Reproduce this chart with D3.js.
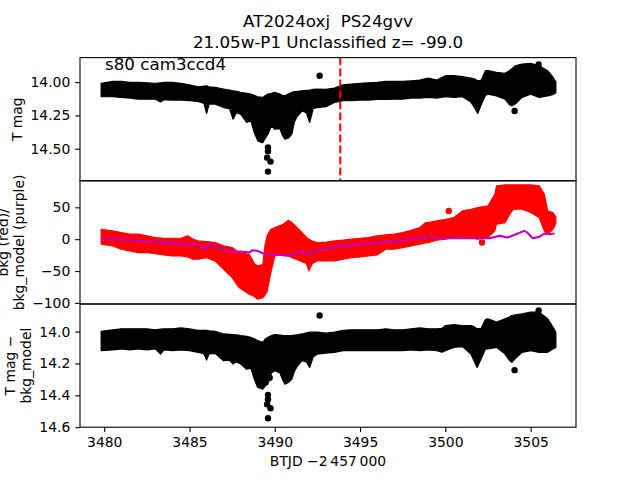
<!DOCTYPE html>
<html><head><meta charset="utf-8">
<script src="https://cdn.jsdelivr.net/npm/d3@7"></script>
<style>body{margin:0;background:#fff}svg{display:block;font-family:"DejaVu Sans",sans-serif}</style>
</head><body><svg id="c" width="640" height="480"></svg>
<script>
// ---- Panel 1: T mag light curve (envelope of the point cloud) ----
const lcT   = [3479.82,3480.5,3481,3481.5,3482,3482.5,3483,3483.3,3483.5,3484,3484.5,3485,3485.5,3485.85,3486,3486.15,3486.5,3487,3487.35,3487.55,3487.75,3488,3488.35,3488.6,3488.8,3489,3489.15,3489.3,3489.45,3489.6,3489.8,3490,3490.3,3490.45,3490.6,3490.8,3491,3491.15,3491.3,3491.6,3491.85,3492.05,3492.25,3492.5,3493,3493.5,3494,3494.5,3495,3495.5,3496,3496.5,3497,3497.5,3498,3498.5,3499,3499.5,3500,3500.5,3501,3501.5,3501.7,3501.9,3502.1,3502.35,3502.5,3503,3503.5,3503.75,3503.9,3504.1,3504.5,3505,3505.5,3506,3506.3,3506.48];
const lcTop = [14.010,13.995,13.995,14.002,14.002,14.005,14.010,14.005,14.002,14.002,14.010,14.020,14.035,14.030,14.028,14.035,14.040,14.052,14.060,14.065,14.070,14.077,14.085,14.090,14.100,14.110,14.112,14.115,14.100,14.090,14.085,14.077,14.090,14.100,14.103,14.090,14.077,14.072,14.070,14.065,14.062,14.060,14.055,14.052,14.055,14.045,14.020,14.015,14.010,14.005,14.002,13.995,13.995,13.995,13.990,13.985,13.970,13.985,13.952,13.952,13.959,13.970,13.975,13.990,13.985,13.914,13.914,13.927,13.934,13.914,13.900,13.877,13.864,13.859,13.877,13.914,13.960,14.000];
const lcBot = [14.110,14.110,14.115,14.120,14.128,14.128,14.128,14.150,14.133,14.135,14.135,14.140,14.145,14.160,14.236,14.165,14.165,14.191,14.200,14.278,14.230,14.241,14.303,14.290,14.380,14.441,14.450,14.454,14.420,14.391,14.330,14.354,14.350,14.400,14.429,14.420,14.391,14.300,14.260,14.216,14.230,14.303,14.200,14.191,14.185,14.153,14.140,14.140,14.135,14.135,14.130,14.130,14.128,14.128,14.120,14.120,14.115,14.120,14.110,14.115,14.110,14.150,14.191,14.236,14.170,14.100,14.090,14.103,14.128,14.170,14.178,14.165,14.115,14.090,14.115,14.103,14.095,14.080];
const lcDotT = [3489.6,3489.6,3489.55,3489.75,3489.6,3492.63,3504.06,3505.47];
const lcDotM = [14.49,14.52,14.567,14.597,14.672,13.952,14.216,13.868];
const markerT = 3493.84;

// ---- Panel 2: background (red envelope) and background model (purple) ----
const bkT   = [3479.82,3480.5,3481,3481.5,3482,3482.5,3483,3483.5,3484,3484.5,3484.9,3485.2,3485.5,3486,3486.5,3487,3487.5,3487.9,3488.5,3488.8,3489,3489.3,3489.42,3489.55,3489.75,3490,3490.5,3490.8,3491,3491.5,3491.85,3492,3492.2,3492.5,3493,3493.5,3494,3494.5,3495,3495.5,3496,3496.5,3497,3497.5,3498,3498.5,3498.85,3499,3499.5,3500,3500.5,3501,3501.5,3501.9,3502.5,3502.9,3503,3503.5,3503.8,3504,3504.5,3505,3505.5,3505.8,3506,3506.3,3506.48];
const bkTop = [15.6,13,10.4,7.8,7.8,5.2,2.5,1.5,1.5,1.5,5.2,0,-2.7,-3.7,-5.3,-10.5,-13.2,-21,-23.6,-38,-42,-40,-10,5,15,18.2,23.5,29.8,26.1,13,3,0,-3,-5.3,-4.5,-2.7,-1.6,0,1.5,2.5,5.2,6.7,7.8,10.4,14,18.2,26.1,26.1,28.7,31.3,33.9,44.4,47,49.6,52.3,70.6,83.7,85.2,85.2,85.2,85.2,85.2,83.7,70.6,44.4,41.8,35];
const bkBot = [-7.9,-10.5,-15.8,-18.4,-21,-21,-22.6,-24.7,-26.2,-26.2,-28,-31.5,-31.5,-28.9,-34.1,-47.2,-60.3,-76,-86.4,-90,-94.3,-91.7,-88,-82,-55,-26.2,-23.6,-26,-28.9,-34.1,-38,-49.8,-38,-34.1,-33.5,-34.1,-31.5,-28.9,-27.8,-26.2,-24.7,-15.8,-15.8,-13.2,-10.5,-7.9,-6,-5.3,-1.6,0,2.5,3.6,2.5,0,2.5,13,23.5,26,40,47,47,41.8,33.9,13,7.8,15,25];
const bkDotT = [3500.2,3502.15];
const bkDotV = [44.4,-5.3];
const modelT = [3479.85,3480,3481,3482,3483,3484,3485,3485.5,3485.75,3485.9,3486.1,3486.4,3487,3487.5,3488,3488.5,3488.7,3489,3489.5,3490.3,3490.85,3491.55,3492,3492.5,3493,3494,3495,3496,3497,3498,3498.83,3499.2,3499.6,3500.8,3501.8,3502.58,3503.17,3503.66,3504.14,3504.63,3504.8,3505.12,3505.5,3505.8,3506.1,3506.4];
const modelV = [0,0,-0.6,-2.7,-4.3,-5.8,-7.9,-9,-10,-15.8,-9.5,-10,-15.8,-19.4,-19.4,-21,-17.3,-18.5,-24.7,-24.7,-26.2,-19.4,-22.6,-17.3,-15.8,-10.5,-7.9,-5.3,-2.7,0,2.5,5.2,1.5,1.5,1.5,1.5,5.2,2.5,7.8,13,10.4,1.5,3.6,8.8,7.8,8.8];

// ---- Panel 3: T mag - bkg_model ----
const dfT   = [3479.82,3480.5,3481,3481.5,3482,3482.5,3483,3483.3,3483.5,3484,3484.5,3485,3485.5,3485.85,3486,3486.15,3486.5,3487,3487.35,3487.55,3487.75,3488,3488.35,3488.6,3488.8,3489,3489.15,3489.3,3489.45,3489.6,3489.8,3490,3490.3,3490.45,3490.6,3490.8,3491,3491.15,3491.3,3491.6,3491.85,3492.05,3492.25,3492.5,3493,3493.5,3494,3494.5,3495,3495.5,3496,3496.5,3497,3497.5,3498,3498.5,3499,3499.5,3499.8,3500,3500.5,3501,3501.5,3501.7,3501.86,3502.1,3502.35,3502.5,3503,3503.5,3503.75,3503.9,3504.1,3504.5,3505,3505.5,3506,3506.3,3506.48];
const dfTop = [13.998,13.989,13.983,13.983,13.983,13.983,13.989,13.985,13.983,13.983,13.977,13.983,13.993,13.993,13.993,13.995,13.998,14.015,14.017,14.019,14.020,14.025,14.030,14.036,14.045,14.057,14.062,14.067,14.045,14.036,14.025,14.019,14.022,14.024,14.025,14.025,14.025,14.022,14.020,14.015,14.008,14.004,14.004,14.004,14.010,14.004,13.993,13.989,13.989,13.989,13.989,13.983,13.989,13.989,13.983,13.977,13.983,13.983,13.980,13.962,13.956,13.962,13.962,13.970,13.983,13.980,13.925,13.920,13.941,13.920,13.909,13.899,13.895,13.888,13.878,13.878,13.920,13.970,14.004];
const dfBot = [14.120,14.115,14.109,14.115,14.109,14.115,14.109,14.141,14.115,14.120,14.115,14.120,14.130,14.140,14.179,14.140,14.137,14.183,14.180,14.204,14.190,14.204,14.236,14.230,14.300,14.351,14.355,14.362,14.340,14.330,14.260,14.246,14.260,14.300,14.330,14.320,14.298,14.250,14.220,14.183,14.190,14.225,14.160,14.141,14.135,14.130,14.120,14.120,14.120,14.120,14.120,14.120,14.120,14.120,14.115,14.120,14.115,14.120,14.130,14.120,14.099,14.094,14.141,14.190,14.225,14.170,14.110,14.109,14.099,14.141,14.180,14.193,14.170,14.130,14.120,14.130,14.130,14.110,14.100];
const dfDotT = [3489.6,3489.6,3489.55,3489.75,3489.6,3489.7,3492.63,3504.06,3505.47];
const dfDotM = [14.397,14.425,14.456,14.481,14.544,14.29,13.899,14.242,13.867];

const xTicks = [3480,3485,3490,3495,3500,3505];
const y1Ticks = [14.00,14.25,14.50];
const y2Ticks = [-100,-50,0,50];
const y3Ticks = [14.0,14.2,14.4,14.6];
const titleLines = ["AT2024oxj  PS24gvv","21.05w-P1 Unclassified z= -99.0"];

// ---- layout ----
const L=80,R=576,T=57.6,B=427.2,H=(B-T)/3;
const svg=d3.select("#c");
const x=d3.scaleLinear().domain([3478.58,3507.66]).range([L,R]);
const y1=d3.scaleLinear().domain([13.816,14.741]).range([T,T+H]);
const y2=d3.scaleLinear().domain([-101.7,91.6]).range([T+2*H,T+H]);
const y3=d3.scaleLinear().domain([13.827,14.6]).range([T+2*H,B]);
const fs=13.9, tk=4.86;

function clip(id,top){
  svg.append("clipPath").attr("id",id).append("rect").attr("x",L).attr("y",top).attr("width",R-L).attr("height",H);
  return svg.append("g").attr("clip-path",`url(#${id})`);
}
function band(g,t,a,b,y,color){
  const idx=d3.range(t.length);
  g.append("path").datum(idx).attr("fill",color).attr("stroke",color).attr("stroke-width",1.2).attr("stroke-linejoin","round")
   .attr("d",d3.area().x(i=>x(t[i])).y0(i=>y(a[i])).y1(i=>y(b[i])));
}
function dots(g,t,v,y,color){
  g.selectAll(null).data(d3.range(t.length)).enter().append("circle")
   .attr("cx",i=>x(t[i])).attr("cy",i=>y(v[i])).attr("r",3.2).attr("fill",color);
}

// panel 1
const g1=clip("c1",T);
band(g1,lcT,lcTop,lcBot,y1,"#000");
dots(g1,lcDotT,lcDotM,y1,"#000");
g1.append("line").attr("x1",x(markerT)).attr("x2",x(markerT)).attr("y1",T).attr("y2",T+H)
  .attr("stroke","#ff0000").attr("stroke-width",2.08).attr("stroke-dasharray","7.7,3.3");
// panel 2
const g2=clip("c2",T+H);
band(g2,bkT,bkTop,bkBot,y2,"#ff0000");
dots(g2,bkDotT,bkDotV,y2,"#ff0000");
g2.append("path").datum(d3.range(modelT.length)).attr("fill","none").attr("stroke","#bf00bf").attr("stroke-width",2.08)
  .attr("stroke-linejoin","round").attr("d",d3.line().x(i=>x(modelT[i])).y(i=>y2(modelV[i])));
// panel 3
const g3=clip("c3",T+2*H);
band(g3,dfT,dfTop,dfBot,y3,"#000");
dots(g3,dfDotT,dfDotM,y3,"#000");

// axes
function yAxis(y,ticks,fmt){
  const g=svg.append("g").attr("transform",`translate(${L},0)`)
    .call(d3.axisLeft(y).tickValues(ticks).tickFormat(fmt).tickSize(tk).tickPadding(4.86));
  g.select(".domain").remove();
  g.selectAll(".tick line").attr("stroke","#000").attr("stroke-width",1.1);
  g.selectAll(".tick text").attr("font-size",fs).attr("font-family","DejaVu Sans").attr("fill","#000");
}
yAxis(y1,y1Ticks,d3.format(".2f"));
yAxis(y2,y2Ticks,d3.format("d"));
yAxis(y3,y3Ticks,d3.format(".1f"));
const gx=svg.append("g").attr("transform",`translate(0,${B})`)
  .call(d3.axisBottom(x).tickValues(xTicks).tickFormat(d3.format("d")).tickSize(tk).tickPadding(4.86));
gx.select(".domain").remove();
gx.selectAll(".tick line").attr("stroke","#000").attr("stroke-width",1.1);
gx.selectAll(".tick text").attr("font-size",fs).attr("font-family","DejaVu Sans").attr("fill","#000");

// spines
[0,1,2].forEach(k=>svg.append("rect").attr("x",L).attr("y",T+k*H).attr("width",R-L).attr("height",H)
  .attr("fill","none").attr("stroke","#000").attr("stroke-width",1.1));

// texts
const cx=(L+R)/2;
titleLines.forEach((s,i)=>svg.append("text").attr("x",cx).attr("y",26.5+i*21.5).attr("text-anchor","middle")
  .attr("font-size",16.7).attr("fill","#000").style("white-space","pre").text(s));
svg.append("text").attr("x",105).attr("y",70).attr("font-size",16.7).text("s80 cam3ccd4");
svg.append("text").attr("x",cx).attr("y",466).attr("text-anchor","middle").attr("font-size",fs).text("BTJD \u22122\u2009457\u2009000");
function ylab(lines,xs,yc){
  lines.forEach((s,i)=>svg.append("text").attr("transform",`translate(${xs[i]},${yc}) rotate(-90)`)
    .attr("text-anchor","middle").attr("dominant-baseline","central").attr("font-size",fs).text(s));
}
ylab(["T mag"],[17],T+H/2);
ylab(["bkg (red)/","bkg_model (purple)"],[3,19],T+1.5*H);
ylab(["T mag \u2212","bkg_model"],[9.5,26],T+2.5*H);
</script></body></html>
